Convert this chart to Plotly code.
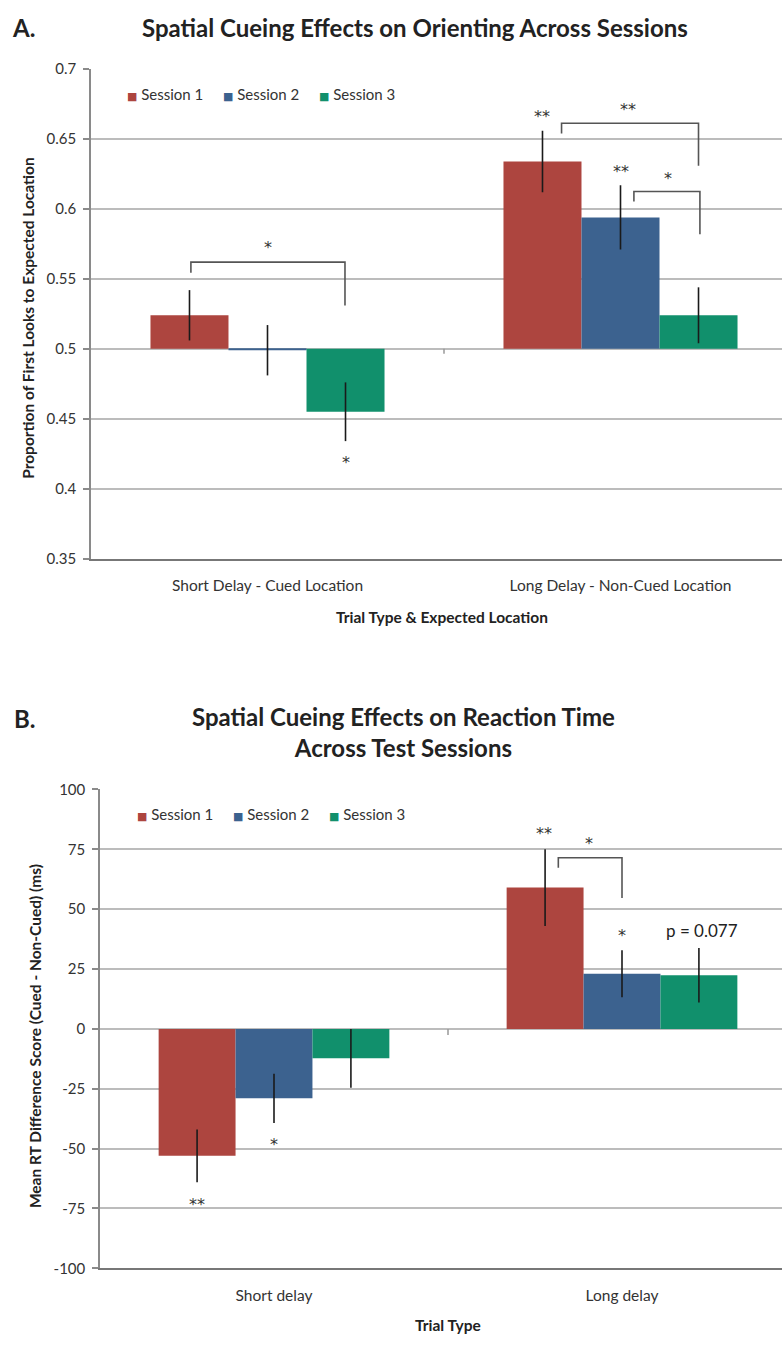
import plotly.graph_objects as go

# ---------------- data ----------------
sessions = ["Session 1", "Session 2", "Session 3"]
colors = ["#ad453f", "#3c628f", "#11906c"]

cats_a = ["Short Delay - Cued Location", "Long Delay - Non-Cued Location"]
orient_mean = [[0.524, 0.634], [0.499, 0.594], [0.455, 0.524]]
orient_err = [[0.018, 0.022], [0.018, 0.023], [0.021, 0.020]]
orient_base = 0.5

cats_b = ["Short delay", "Long delay"]
rt_mean = [[-53.0, 59.0], [-29.0, 23.0], [-12.3, 22.4]]
rt_err = [[11.0, 16.0], [10.3, 9.8], [12.3, 11.4]]

ticks_b = [100, 75, 50, 25, 0, -25, -50, -75, -100]
ticks_b_text = ["100", "75", "50", "25", "0", "-25", "-50", "-75", "-100"]

# significance labels: (x position in category units, y value, text)
sig_a = [(0.221, 0.419, "*"), (0.779, 0.666, "**"), (1.0, 0.627, "**"),
         (0.0, 0.5725, "*"), (1.02, 0.671, "**"), (1.134, 0.622, "*")]
sig_b = [(0.776, 81.5, "**"), (1.0, 39.0, "*"), (0.905, 77.3, "*"),
         (-0.22, -73.5, "**"), (0.0, -48.3, "*")]
pval_b = [(1.229, 41.0, "p = 0.077")]

# brackets: (x left, x right, y top, y left end, y right end)
brackets_a = [(-0.217, 0.2195, 0.562, 0.5545, 0.531),
              (0.833, 1.221, 0.6613, 0.654, 0.631),
              (1.038, 1.225, 0.6125, 0.6054, 0.582)]
brackets_b = [(0.817, 1.0, 71.5, 67.3, 54.7)]

# ---------------- figure ----------------
W, H = 782, 1347
fig = go.Figure()

for i, s in enumerate(sessions):
    fig.add_trace(go.Bar(
        x=cats_a, y=[v - orient_base for v in orient_mean[i]], base=orient_base,
        name=s, marker=dict(color=colors[i], line=dict(width=0)),
        error_y=dict(type="data", array=orient_err[i], color="#1a1a1a", thickness=1.6, width=0),
        xaxis="x", yaxis="y", showlegend=False))
for i, s in enumerate(sessions):
    fig.add_trace(go.Bar(
        x=cats_b, y=rt_mean[i], name=s,
        marker=dict(color=colors[i], line=dict(width=0)),
        error_y=dict(type="data", array=rt_err[i], color="#1a1a1a", thickness=1.6, width=0),
        xaxis="x2", yaxis="y2", showlegend=False))

shapes = []
def add_brackets(brs, xa, ya):
    for (x0, x1, yt, yl, yr) in brs:
        shapes.append(dict(type="path", xref=xa, yref=ya,
                           path=f"M {x0},{yl} L {x0},{yt} L {x1},{yt} L {x1},{yr}",
                           line=dict(color="#555555", width=1.6)))

add_brackets(brackets_a, "x", "y")
add_brackets(brackets_b, "x2", "y2")

# small tick marks between categories on the crossing line
shapes += [
    dict(type="line", xref="x", yref="y", x0=0.5, x1=0.5, y0=orient_base, y1=orient_base - 0.0035,
         line=dict(color="#999", width=1.5)),
    dict(type="line", xref="x2", yref="y2", x0=0.5, x1=0.5, y0=0, y1=-2.5,
         line=dict(color="#999", width=1.5)),
]

annotations = []
sig_font = dict(family="DejaVu Sans", size=16, color="#333")
for (x, y, t) in sig_a:
    annotations.append(dict(x=x, y=y, xref="x", yref="y", text=t, showarrow=False, font=sig_font))
for (x, y, t) in sig_b:
    annotations.append(dict(x=x, y=y, xref="x2", yref="y2", text=t, showarrow=False, font=sig_font))
for (x, y, t) in pval_b:
    annotations.append(dict(x=x, y=y, xref="x2", yref="y2", text=t, showarrow=False,
                            font=dict(family="Lato", size=17, color="#222")))

def py(pix):
    return 1 - pix / H

# legends (square + label), one row per panel
legend_rows = [(125, 85), (135, 815)]
for (lx, ly) in legend_rows:
    for i, s in enumerate(sessions):
        annotations.append(dict(
            x=(lx + i * 96) / W, y=py(ly), xref="paper", yref="paper",
            xanchor="left", yanchor="middle", showarrow=False,
            text=f'<span style="color:{colors[i]};font-family:DejaVu Sans;font-size:11px">■</span> {s}',
            font=dict(family="Lato", size=15, color="#333")))

title_font = dict(family="Lato", size=24, color="#222")
annotations += [
    dict(x=10 / W, y=py(18), xref="paper", yref="paper", xanchor="left", yanchor="middle",
         text="<b>A.</b>", showarrow=False, font=title_font),
    dict(x=415 / W, y=py(18), xref="paper", yref="paper", xanchor="center", yanchor="middle",
         text="<b>Spatial Cueing Effects on Orienting Across Sessions</b>", showarrow=False, font=title_font),
    dict(x=12 / W, y=py(718), xref="paper", yref="paper", xanchor="left", yanchor="middle",
         text="<b>B.</b>", showarrow=False, font=title_font),
    dict(x=403 / W, y=py(732), xref="paper", yref="paper", xanchor="center", yanchor="middle",
         text="<b>Spatial Cueing Effects on Reaction Time<br>Across Test Sessions</b>", showarrow=False,
         font=title_font),
    dict(x=28 / W, y=py(312), xref="paper", yref="paper", xanchor="center", yanchor="middle",
         text="<b>Proportion of First Looks to Expected Location</b>", textangle=-90, showarrow=False,
         font=dict(family="Lato", size=15.5, color="#222")),
    dict(x=35 / W, y=py(1040), xref="paper", yref="paper", xanchor="center", yanchor="middle",
         text="<b>Mean RT Difference Score (Cued - Non-Cued) (ms)</b>", textangle=-90, showarrow=False,
         font=dict(family="Lato", size=15.5, color="#222")),
    dict(x=442 / W, y=py(615), xref="paper", yref="paper", xanchor="center", yanchor="middle",
         text="<b>Trial Type & Expected Location</b>", showarrow=False,
         font=dict(family="Lato", size=15.5, color="#222")),
    dict(x=448 / W, y=py(1333), xref="paper", yref="paper", xanchor="center", yanchor="middle",
         text="<b>Trial Type</b>", showarrow=False,
         font=dict(family="Lato", size=15.5, color="#222")),
]

tick_font = dict(family="Lato", size=15, color="#333")
xtick_font = dict(family="Lato", size=15.5, color="#333")
axA_left, axB_left = 91, 100
catw_a, catw_b = 353, 348

fig.update_layout(
    width=W, height=H,
    margin=dict(l=0, r=0, t=0, b=0),
    paper_bgcolor="white", plot_bgcolor="white",
    barmode="group", bargap=0.337, bargroupgap=0,
    font=dict(family="Lato", color="#333"),
    showlegend=False,
    xaxis=dict(domain=[axA_left / W, 1], anchor="y", type="category",
               range=[-0.5, -0.5 + (W - axA_left) / catw_a],
               showgrid=False, showline=True, linecolor="#777", linewidth=2.2,
               ticks="", tickfont=xtick_font, ticklabelstandoff=12, zeroline=False),
    yaxis=dict(domain=[py(556), py(60)], anchor="x", range=[0.35, 0.7], dtick=0.05, tick0=0.35,
               showgrid=True, gridcolor="#bcbcbc", gridwidth=1.5, zeroline=False,
               showline=True, linecolor="#8a8a8a", linewidth=1.5,
               ticks="outside", ticklen=6, tickcolor="#8a8a8a", tickwidth=1.5,
               tickfont=tick_font, ticklabelstandoff=4),
    xaxis2=dict(domain=[axB_left / W, 1], anchor="y2", type="category",
                range=[-0.5, -0.5 + (W - axB_left) / catw_b],
                showgrid=False, showline=True, linecolor="#777", linewidth=2.2,
                ticks="", tickfont=xtick_font, ticklabelstandoff=12, zeroline=False),
    yaxis2=dict(domain=[py(1275.4), py(790)], anchor="x2", range=[-100, 100],
                tickvals=ticks_b, ticktext=ticks_b_text,
                showgrid=True, gridcolor="#bcbcbc", gridwidth=1.5, zeroline=False,
                showline=True, linecolor="#8a8a8a", linewidth=1.5,
                ticks="outside", ticklen=6, tickcolor="#8a8a8a", tickwidth=1.5,
                tickfont=tick_font, ticklabelstandoff=4),
    annotations=annotations,
    shapes=shapes,
)

fig.write_html("out.html")
